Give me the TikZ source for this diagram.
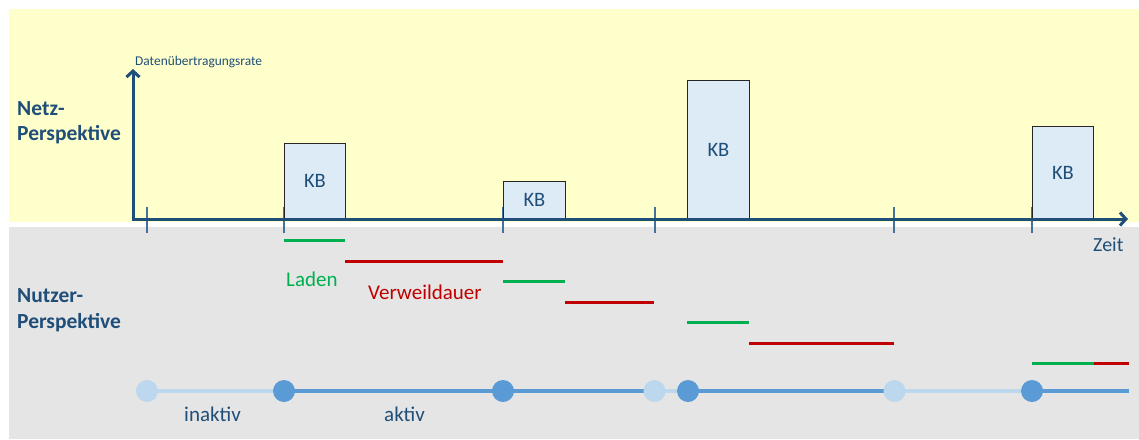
\documentclass[tikz,border=0pt]{standalone}
\usepackage{fontspec}
\setmainfont{Carlito}
\usetikzlibrary{arrows.meta}
\definecolor{ylw}{HTML}{FFFFCC}
\definecolor{gry}{HTML}{E5E5E5}
\definecolor{dblue}{HTML}{1F4E79}
\definecolor{tickc}{HTML}{46719C}
\definecolor{boxfill}{HTML}{DDEBF7}
\definecolor{grn}{HTML}{00B050}
\definecolor{rd}{HTML}{C00000}
\definecolor{lblue}{HTML}{BDD7EE}
\definecolor{mblue}{HTML}{5B9BD5}
\begin{document}
\begin{tikzpicture}[x=1pt,y=-1pt,
  kbbox/.style={draw=black!85, line width=0.8pt, fill=boxfill, text=dblue,
    font=\fontsize{20.5}{24}\selectfont, inner sep=0pt, anchor=south west},
  axisline/.style={draw=dblue, line width=3pt, line join=miter,
    {Straight Barb[length=6pt,width=13pt]}-{Straight Barb[length=6pt,width=13pt]}},
  tickline/.style={draw=tickc, line width=1.3pt},
  bodytxt/.style={font=\fontsize{21}{25}\selectfont, anchor=base west, inner sep=0pt},
  headtxt/.style={font=\fontsize{21.5}{25}\selectfont\bfseries, text=dblue, anchor=base west, inner sep=0pt},
  loadline/.style={draw=grn, line width=3pt},
  stayline/.style={draw=rd, line width=3pt},
  actseg/.style={draw=mblue, line width=3.5pt},
  inactseg/.style={draw=lblue, line width=3.5pt},
  actdot/.style={circle, fill=mblue, minimum size=22pt, inner sep=0pt},
  inactdot/.style={circle, fill=lblue, minimum size=22pt, inner sep=0pt},
]
\useasboundingbox (0,0) rectangle (1139,439);
% panels
\fill[ylw] (9,9) rectangle (1139,222);
\fill[gry] (9,227) rectangle (1139,439);

% labels
\node[font=\fontsize{13.4}{15}\selectfont, text=dblue, anchor=base west, inner sep=0pt] (ylab) at (135,65) {Datenübertragungsrate};
\node[headtxt] (netz1) at (17,115) {Netz-};
\node[headtxt] (netz2) at (17,140.5) {Perspektive};
\node[headtxt] (nutz1) at (17,302) {Nutzer-};
\node[headtxt] (nutz2) at (17,328) {Perspektive};

% ticks
\foreach \x/\n in {147/t1,284/t2,503/t3,655/t4,894/t5,1032/t6}{
  \coordinate (\n a) at (\x,207);
  \coordinate (\n b) at (\x,233);
  \draw[tickline] (\n a) -- (\n b);
}

% boxes
\node[kbbox, minimum width=61pt, minimum height=75pt] (kb1) at (284,219) {KB};
\node[kbbox, minimum width=62pt, minimum height=37pt] (kb2) at (503,219) {KB};
\node[kbbox, minimum width=62pt, minimum height=138pt] (kb3) at (687,219) {KB};
\node[kbbox, minimum width=61pt, minimum height=92pt] (kb4) at (1032,219) {KB};

% axes
\coordinate (ytip) at (133,69);
\coordinate (orig) at (133,219);
\coordinate (xtip) at (1128,219);
\draw[axisline] (ytip) -- (orig) -- (xtip);
\node[bodytxt, font=\fontsize{20}{24}\selectfont, text=dblue] (zeit) at (1093,251.5) {Zeit};

% load / stay lines
\coordinate (g1a) at (284,240); \coordinate (g1b) at (345,240);
\coordinate (r1a) at (345,261); \coordinate (r1b) at (503,261);
\coordinate (g2a) at (503,281); \coordinate (g2b) at (565,281);
\coordinate (r2a) at (565,302); \coordinate (r2b) at (654,302);
\coordinate (g3a) at (687,322); \coordinate (g3b) at (749,322);
\coordinate (r3a) at (749,343); \coordinate (r3b) at (894,343);
\coordinate (g4a) at (1032,363); \coordinate (g4b) at (1094,363);
\coordinate (r4a) at (1094,363); \coordinate (r4b) at (1129,363);
\draw[loadline] (g1a) -- (g1b);
\draw[stayline] (r1a) -- (r1b);
\draw[loadline] (g2a) -- (g2b);
\draw[stayline] (r2a) -- (r2b);
\draw[loadline] (g3a) -- (g3b);
\draw[stayline] (r3a) -- (r3b);
\draw[loadline] (g4a) -- (g4b);
\draw[stayline] (r4a) -- (r4b);

\node[bodytxt, text=grn] (laden) at (286,286) {Laden};
\node[bodytxt, text=rd] (verw) at (368,299) {Verweildauer};

% timeline
\coordinate (p1) at (147,391);
\coordinate (p2) at (284,391);
\coordinate (p3) at (503,391);
\coordinate (p4) at (654.5,391);
\coordinate (p5) at (688,391);
\coordinate (p6) at (894.5,391);
\coordinate (p7) at (1032,391);
\coordinate (pend) at (1129,391);
\draw[inactseg] (p1) -- (p2);
\draw[actseg] (p2) -- (p3) -- (p4);
\draw[inactseg] (p4) -- (p5);
\draw[actseg] (p5) -- (p6);
\draw[inactseg] (p6) -- (p7);
\draw[actseg] (p7) -- (pend);
\node[inactdot] (d1) at (p1) {};
\node[actdot] (d2) at (p2) {};
\node[actdot] (d3) at (p3) {};
\node[inactdot] (d4) at (p4) {};
\node[actdot] (d5) at (p5) {};
\node[inactdot] (d6) at (p6) {};
\node[actdot] (d7) at (p7) {};

\node[bodytxt, text=dblue] (inakt) at (184,421.5) {inaktiv};
\node[bodytxt, text=dblue] (akt) at (384,421.5) {aktiv};
\end{tikzpicture}
\end{document}
